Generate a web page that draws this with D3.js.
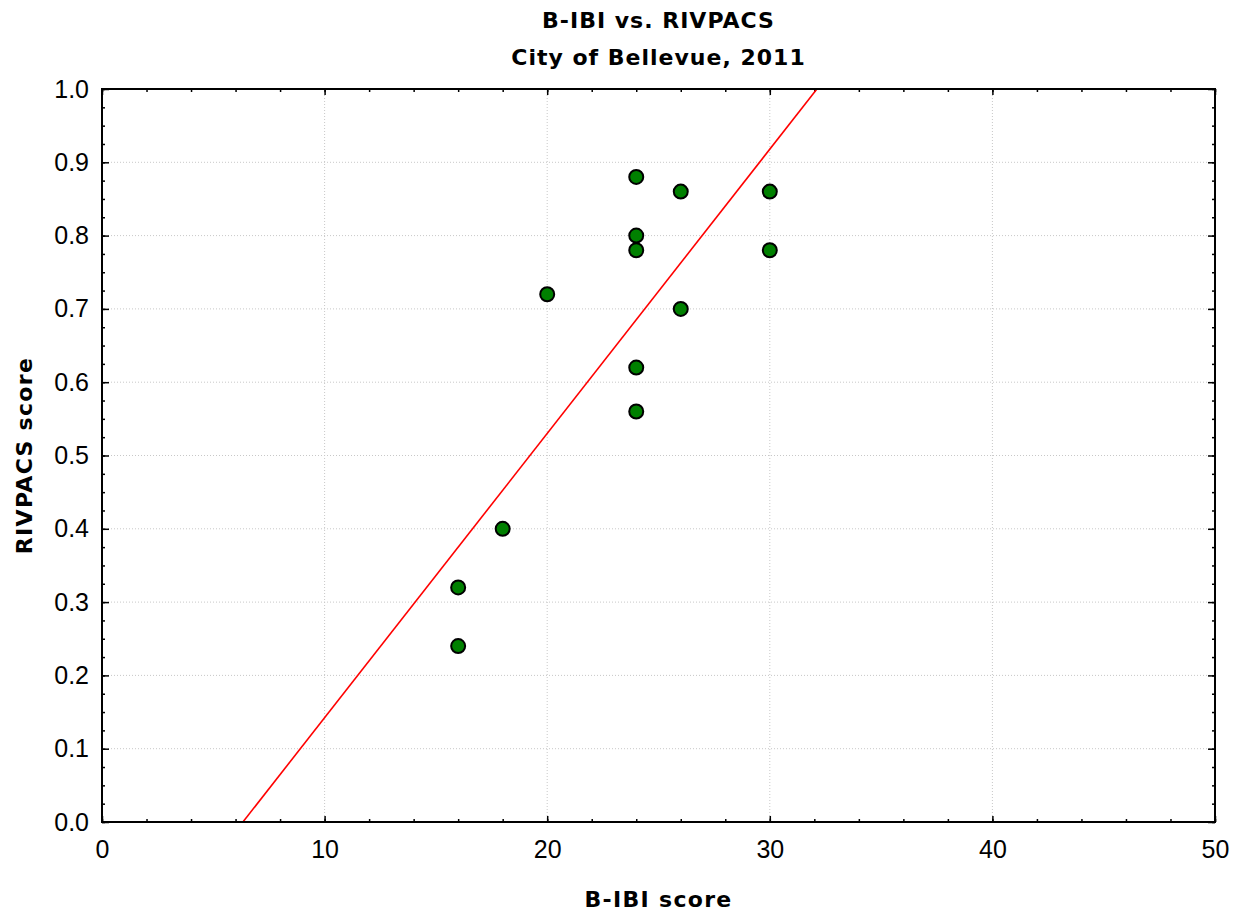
<!DOCTYPE html>
<html>
<head>
<meta charset="utf-8">
<script src="https://cdn.jsdelivr.net/npm/d3@7"></script>
<style>
  html, body { margin: 0; padding: 0; background: #fff; }
  svg { display: block; }
</style>
</head>
<body>
<svg id="chart" width="1246" height="916"></svg>
<script>
// ---- Data ----
const bibiScore = [16, 16, 18, 20, 24, 24, 24, 24, 24, 26, 26, 30, 30];
const rivpacsScore = [0.32, 0.24, 0.40, 0.72, 0.88, 0.80, 0.78, 0.62, 0.56, 0.86, 0.70, 0.86, 0.78];
const fitIntercept = -0.2455;   // RIVPACS = a + b * B-IBI
const fitSlope = 0.03878;
const xTicks = [0, 10, 20, 30, 40, 50];
const yTicks = [0.0, 0.1, 0.2, 0.3, 0.4, 0.5, 0.6, 0.7, 0.8, 0.9, 1.0];
const titleLines = ["B-IBI vs. RIVPACS", "City of Bellevue, 2011"];
const xLabel = "B-IBI score";
const yLabel = "RIVPACS score";

// ---- Layout ----
const L = 102, R = 1215, T = 89, B = 822;
const svg = d3.select("#chart");
const x = d3.scaleLinear().domain([0, 50]).range([L, R]);
const y = d3.scaleLinear().domain([0, 1]).range([B, T]);

// grid
const grid = svg.append("g");
grid.selectAll("line.gx").data(xTicks.slice(1, -1)).join("line")
  .attr("x1", d => x(d)).attr("x2", d => x(d)).attr("y1", T).attr("y2", B)
  .attr("stroke", "#c8c8c8").attr("stroke-width", 1).attr("stroke-dasharray", "1,2");
grid.selectAll("line.gy").data(yTicks.slice(1, -1)).join("line")
  .attr("x1", L).attr("x2", R).attr("y1", d => y(d)).attr("y2", d => y(d))
  .attr("stroke", "#c8c8c8").attr("stroke-width", 1).attr("stroke-dasharray", "1,2");

// axes (inward ticks)
const tickFamily = "'Liberation Sans', Arial, sans-serif";
const xMinor = d3.range(0, 50.001, 2);
const yMinor = d3.range(0, 1.0001, 0.025);

function styleAxis(g) {
  g.select(".domain").remove();
  g.attr("font-family", tickFamily).attr("font-size", 25);
  g.selectAll(".tick line").attr("stroke", "#000").attr("stroke-width", 1.5);
  g.selectAll("text").attr("fill", "#000");
}
// bottom
svg.append("g").attr("transform", `translate(0,${B})`)
  .call(d3.axisBottom(x).tickValues(xMinor).tickSize(-3).tickFormat(""))
  .call(styleAxis);
svg.append("g").attr("transform", `translate(0,${B})`)
  .call(d3.axisBottom(x).tickValues(xTicks).tickSize(-6).tickPadding(18).tickFormat(d3.format("d")))
  .call(styleAxis);
// top
svg.append("g").attr("transform", `translate(0,${T})`)
  .call(d3.axisTop(x).tickValues(xMinor).tickSize(-3).tickFormat(""))
  .call(styleAxis);
svg.append("g").attr("transform", `translate(0,${T})`)
  .call(d3.axisTop(x).tickValues(xTicks).tickSize(-6).tickFormat(""))
  .call(styleAxis);
// left
svg.append("g").attr("transform", `translate(${L},0)`)
  .call(d3.axisLeft(y).tickValues(yMinor).tickSize(-3).tickFormat(""))
  .call(styleAxis);
svg.append("g").attr("transform", `translate(${L},0)`)
  .call(d3.axisLeft(y).tickValues(yTicks).tickSize(-7).tickPadding(13).tickFormat(d3.format(".1f")))
  .call(styleAxis);
// right
svg.append("g").attr("transform", `translate(${R},0)`)
  .call(d3.axisRight(y).tickValues(yMinor).tickSize(-3).tickFormat(""))
  .call(styleAxis);
svg.append("g").attr("transform", `translate(${R},0)`)
  .call(d3.axisRight(y).tickValues(yTicks).tickSize(-7).tickFormat(""))
  .call(styleAxis);

// clip for regression line
svg.append("clipPath").attr("id", "plotclip").append("rect")
  .attr("x", L).attr("y", T).attr("width", R - L).attr("height", B - T);

// regression line
const xs = [0, 50];
svg.append("line")
  .attr("clip-path", "url(#plotclip)")
  .attr("x1", x(xs[0])).attr("y1", y(fitIntercept + fitSlope * xs[0]))
  .attr("x2", x(xs[1])).attr("y2", y(fitIntercept + fitSlope * xs[1]))
  .attr("stroke", "#ff0000").attr("stroke-width", 1.6);

// frame
svg.append("rect").attr("x", L).attr("y", T).attr("width", R - L).attr("height", B - T)
  .attr("fill", "none").attr("stroke", "#000").attr("stroke-width", 2);

// points
svg.append("g").selectAll("circle").data(bibiScore.map((v, i) => [v, rivpacsScore[i]]))
  .join("circle")
  .attr("cx", d => x(d[0])).attr("cy", d => y(d[1])).attr("r", 7)
  .attr("fill", "#008000").attr("stroke", "#000").attr("stroke-width", 2);

// titles
const boldFont = "bold 22px 'DejaVu Sans', Verdana, sans-serif";
svg.append("g").selectAll("text").data(titleLines).join("text")
  .attr("x", (L + R) / 2).attr("y", (d, i) => 28 + i * 37)
  .attr("text-anchor", "middle").style("font", boldFont)
  .style("letter-spacing", "1px").text(d => d);

svg.append("text").attr("x", (L + R) / 2).attr("y", 907)
  .attr("text-anchor", "middle").style("font", boldFont)
  .style("letter-spacing", "1.3px").text(xLabel);

svg.append("text").attr("transform", `translate(32,${(T + B) / 2}) rotate(-90)`)
  .attr("text-anchor", "middle").style("font", boldFont)
  .style("letter-spacing", "1.3px").text(yLabel);
</script>
</body>
</html>
